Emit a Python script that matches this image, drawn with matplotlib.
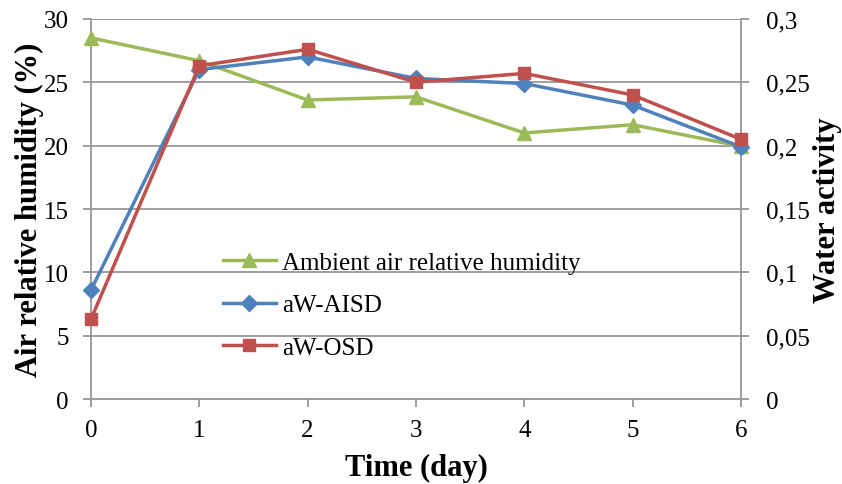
import matplotlib.pyplot as plt

plt.rcParams['font.family'] = ['Liberation Serif', 'DejaVu Serif']

days = [0, 1, 2, 3, 4, 5, 6]
rh_ambient = [28.5, 26.7, 23.6, 23.85, 21.0, 21.65, 19.95]
aw_aisd = [0.086, 0.260, 0.270, 0.253, 0.249, 0.232, 0.199]
aw_osd = [0.063, 0.263, 0.276, 0.250, 0.257, 0.240, 0.205]

green = '#9BBB59'
blue = '#4F81BD'
red = '#C0504D'
grey = '#969696'

fig = plt.figure(figsize=(8.42, 4.85), dpi=100)
ax = fig.add_axes([0.108, 0.175, 0.772, 0.784])
ax2 = ax.twinx()

l1, = ax.plot(days, rh_ambient, color=green, lw=2.5, marker='^', ms=10,
              label='Ambient air relative humidity', clip_on=False, zorder=3)
l2, = ax2.plot(days, aw_aisd, color=blue, lw=2.5, marker='D', ms=8,
               label='aW-AISD', clip_on=False, zorder=3)
l3, = ax2.plot(days, aw_osd, color=red, lw=2.5, marker='s', ms=8.5,
               label='aW-OSD', clip_on=False, zorder=4)

ax.set_xlim(0, 6)
ax.set_ylim(0, 30)
ax2.set_ylim(0, 0.3)
ax.set_yticks(range(0, 31, 5))
ax2.set_yticks([0, 0.05, 0.1, 0.15, 0.2, 0.25, 0.3])
ax2.set_yticklabels(['0', '0,05', '0,1', '0,15', '0,2', '0,25', '0,3'])
ax.set_xticks(days)

ax.yaxis.grid(True, color=grey, lw=1.3)
ax.set_axisbelow(True)

for a in (ax, ax2):
    a.spines['top'].set_visible(False)
    for s in ('left', 'right', 'bottom'):
        a.spines[s].set_color(grey)
        a.spines[s].set_linewidth(1.3)
    a.tick_params(direction='out', length=6, width=1.3, color=grey,
                  labelsize=18)
ax.tick_params(axis='y', pad=10)
ax.tick_params(axis='x', pad=8)
ax2.tick_params(axis='y', pad=12)
ax.spines['right'].set_visible(False)
ax2.spines['left'].set_visible(False)
ax2.spines['bottom'].set_visible(False)

ax.set_xlabel('Time (day)', fontsize=22, fontweight='bold', labelpad=9)
ax.set_ylabel('Air relative humidity (%)', fontsize=22, fontweight='bold', labelpad=0)
ax2.set_ylabel('Water activity', fontsize=22, fontweight='bold', labelpad=2)

leg = ax2.legend(handles=[l1, l2, l3], loc='upper left',
                 bbox_to_anchor=(0.259, 0.49), bbox_transform=fig.transFigure,
                 frameon=False, fontsize=18, handlelength=2.1,
                 labelspacing=0.8, handletextpad=0.25, borderpad=0.2,
                 borderaxespad=0)

fig.savefig('out.png', dpi=100)
